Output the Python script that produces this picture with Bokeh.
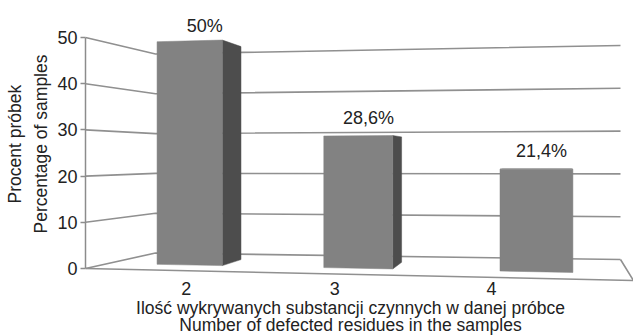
import math
from bokeh.plotting import figure
from bokeh.models import Range1d, FixedTicker, Label, Title
from bokeh.embed import file_html
from bokeh.resources import INLINE
from bokeh.core.properties import value

# ---------------- data ----------------
categories = ["2", "3", "4"]
percentages = [50.0, 28.6, 21.4]
y_ticks = [0, 10, 20, 30, 40, 50]
y_title_lines = ["Procent próbek", "Percentage of samples"]
x_title_lines = ["Ilość wykrywanych substancji czynnych w danej próbce",
                 "Number of defected residues in the samples"]

# ---------------- layout / style ----------------
W, H = 633, 336
LEFT = 85
FRAME_W = W - LEFT
FLOOR_PX = 268.0
PX_PER_UNIT = 4.62
FONT = "Liberation Sans"
TXT = "#222222"
GRID = "#909090"
FRONT_FILL = "#828282"
SIDE_FILL = "#4d4d4d"
TOP_FILL = "#a0a0a0"

# perspective model of the 3-D box (axis units: x 0..1 across, y in value units)
BACK_X0 = 70 / FRAME_W
BACK_XS = 465 / FRAME_W
FRONT_DROP = 12 / PX_PER_UNIT
BACK_RISE0 = 15.5 / PX_PER_UNIT
BACK_DROP = 6.5 / PX_PER_UNIT
FRONT_SCALE_SLOPE = 0.55 / PX_PER_UNIT
BACK_SCALE0 = 3.98 / PX_PER_UNIT
BACK_SCALE_SLOPE = 0.30 / PX_PER_UNIT
PERSP_K = 0.08
BAR_W0, BAR_W1 = 0.33, 0.69
BAR_HALF = 0.0663
LBL_A, LBL_B = 0.0541, 0.836


def persp(s):
    return s * (1 - PERSP_K) / (1 - PERSP_K * s)


def project(s, w, v):
    u = persp(s)
    x = (1 - w) * u + w * (BACK_X0 + BACK_XS * u)
    floor = (1 - w) * (-FRONT_DROP * u) + w * (BACK_RISE0 - BACK_DROP * u)
    scale = (1 - w) * (1 + FRONT_SCALE_SLOPE * u) + w * (BACK_SCALE0 + BACK_SCALE_SLOPE * u)
    return x, floor + scale * v


def px_dy(px):
    return px / PX_PER_UNIT


def px_dx(px):
    return px / FRAME_W


p = figure(width=W, height=H, output_backend="svg", toolbar_location=None,
           x_axis_type=None,
           x_range=Range1d(0, 1),
           y_range=Range1d(px_dy(FLOOR_PX - H), px_dy(FLOOR_PX)),
           min_border_left=LEFT, min_border_right=0, min_border_top=0, min_border_bottom=0)
p.outline_line_color = None
p.grid.visible = False
p.background_fill_color = "white"
p.border_fill_color = "white"

# ---------------- walls / grid ----------------
gx, gy = [], []
for t in y_ticks:
    a = project(0, 0, t)
    b = project(0, 1, t)
    c = project(1, 1, t)
    gx.append([a[0], b[0], c[0]])
    gy.append([a[1], b[1], c[1]])
f0 = project(0, 0, 0)
f1 = project(1, 0, 0)
f2 = project(1, 1, 0)
gx.append([f0[0], f1[0], f2[0]])
gy.append([f0[1], f1[1], f2[1]])
p.multi_line(gx, gy, line_color=GRID, line_width=1.6)

# ---------------- bars ----------------
n = len(categories)
front_xs, front_ys, side_xs, side_ys, top_xs, top_ys = [], [], [], [], [], []
lab_x, lab_y, lab_t = [], [], []
for i, v in enumerate(percentages):
    s = (i + 0.5) / n
    sl, sr = s - BAR_HALF, s + BAR_HALF
    fl0, fr0 = project(sl, BAR_W0, 0), project(sr, BAR_W0, 0)
    fl1, fr1 = project(sl, BAR_W0, v), project(sr, BAR_W0, v)
    bl0, br0 = project(sl, BAR_W1, 0), project(sr, BAR_W1, 0)
    bl1, br1 = project(sl, BAR_W1, v), project(sr, BAR_W1, v)
    if br0[0] > fr0[0]:
        side_xs.append([fr0[0], br0[0], br1[0], fr1[0]])
        side_ys.append([fr0[1], br0[1], br1[1], fr1[1]])
    if bl0[0] < fl0[0]:
        side_xs.append([fl0[0], bl0[0], bl1[0], fl1[0]])
        side_ys.append([fl0[1], bl0[1], bl1[1], fl1[1]])
    if bl1[1] > fl1[1]:
        top_xs.append([fl1[0], fr1[0], br1[0], bl1[0]])
        top_ys.append([fl1[1], fr1[1], br1[1], bl1[1]])
    front_xs.append([fl0[0], fr0[0], fr1[0], fl1[0]])
    front_ys.append([fl0[1], fr0[1], fr1[1], fl1[1]])
    mid = project(s, (BAR_W0 + BAR_W1) / 2, v)
    lab_x.append(mid[0] + px_dx(5))
    lab_y.append(mid[1] + px_dy(18))
    lab_t.append(("%g" % v).replace(".", ",") + "%")

if side_xs:
    p.patches(side_xs, side_ys, fill_color=SIDE_FILL, line_color=SIDE_FILL, line_width=0.5)
if top_xs:
    p.patches(top_xs, top_ys, fill_color=TOP_FILL, line_color=TOP_FILL, line_width=0.5)
p.patches(front_xs, front_ys, fill_color=FRONT_FILL, line_color=FRONT_FILL, line_width=0.5)

p.text(x=lab_x, y=lab_y, text=lab_t, text_font=value(FONT), text_font_size="18px",
       text_color=TXT, text_align="center", text_baseline="middle")

# category labels
cat_x = [LBL_A + LBL_B * persp((i + 0.5) / n) for i in range(n)]
cat_y = [px_dy(-19.5)] * n
p.text(x=cat_x, y=cat_y, text=categories, text_font=value(FONT), text_font_size="18px",
       text_color=TXT, text_align="center", text_baseline="middle")

# x title
xt_x = px_dx(350 - LEFT)
for k, line in enumerate(x_title_lines):
    p.add_layout(Label(x=xt_x, y=px_dy(FLOOR_PX - (307.5 + 17 * k)), text=line,
                       text_font=FONT, text_font_size="17.5px", text_color=TXT,
                       text_align="center", text_baseline="middle"))

# y axis
ax = p.yaxis[0]
ax.ticker = FixedTicker(ticks=y_ticks)
ax.bounds = (0, 50)
ax.axis_line_color = "#8c8c8c"
ax.axis_line_width = 1.5
ax.major_tick_line_color = "#8c8c8c"
ax.major_tick_line_width = 1.5
ax.major_tick_out = 5
ax.major_tick_in = 0
ax.minor_tick_line_color = None
ax.major_label_standoff = 3
ax.major_label_text_font = FONT
ax.major_label_text_font_size = "18px"
ax.major_label_text_color = TXT

# y title (two rotated lines in the left panel, nearest line first)
Y_TITLE_BOTTOM_PX = [203, 233]  # lower end of each rotated line
for k, line in enumerate(reversed(y_title_lines)):
    bottom = list(reversed(Y_TITLE_BOTTOM_PX))[k]
    p.add_layout(Title(text=line, align="left", offset=H - bottom, standoff=[8, 0][k],
                       text_font=FONT, text_font_size="17.5px", text_font_style="normal",
                       text_color=TXT), "left")

open("out.html", "w").write(file_html(p, INLINE))
